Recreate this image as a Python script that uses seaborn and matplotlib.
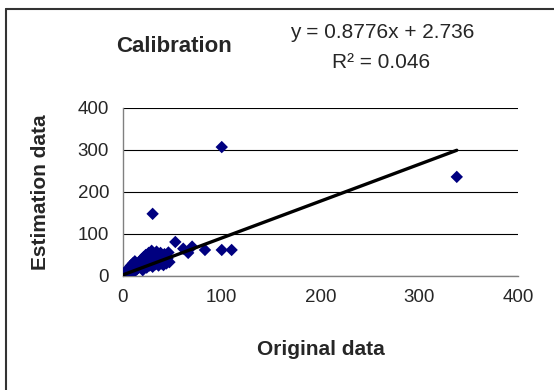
import numpy as np
import matplotlib
matplotlib.use("Agg")
import matplotlib.pyplot as plt
import seaborn as sns
from matplotlib.lines import Line2D

# original vs estimated values
original = [0, 1, 2, 1, 3, 4, 5, 3, 6, 7, 8, 9, 10, 11, 12, 13, 14, 15, 16, 17,
            18, 19, 20, 21, 22, 23, 24, 25, 26, 27, 28, 29, 30, 31, 32, 33, 34,
            35, 36, 37, 38, 39, 40, 41, 42, 43, 44, 45, 46, 47, 8, 10, 12, 2, 4,
            30, 53, 61, 66, 70, 83, 100, 110, 100, 338]
estimated = [0, 1, 3, 5, 2, 6, 4, 8, 9, 5, 10, 14, 8, 18, 12, 22, 16, 28, 20, 35,
             24, 40, 14, 45, 30, 50, 20, 38, 55, 25, 44, 60, 22, 35, 50, 28, 58,
             40, 25, 48, 55, 30, 45, 26, 52, 35, 30, 42, 56, 33, 25, 30, 35, 10, 12,
             148, 81, 65, 55, 70, 62, 62, 62, 307, 236]

slope = 0.8776
intercept = 2.736
eq_text = "y = 0.8776x + 2.736"
r2_text = "R² = 0.046"

sns.set_style("white")
plt.rcParams['font.family'] = ['Liberation Sans', 'DejaVu Sans']

fig = plt.figure(figsize=(5.54, 3.9), dpi=100)
ax = fig.add_axes([123/554, 1 - 276/390, (518 - 123)/554, (276 - 108)/390])

sns.scatterplot(x=original, y=estimated, marker='D', color='#000080',
                s=40, edgecolor='none', ax=ax, zorder=3)

# linear trendline over the data range
xs = np.array([min(original), max(original)])
ax.plot(xs, slope * xs + intercept, color='black', lw=2.4, zorder=4)

ax.set_xlim(0, 400)
ax.set_ylim(0, 400)
ax.set_xticks([0, 100, 200, 300, 400])
ax.set_yticks([0, 100, 200, 300, 400])
ax.yaxis.grid(True, color='black', lw=0.8)
ax.set_axisbelow(True)
for s in ['top', 'right']:
    ax.spines[s].set_visible(False)
for s in ['left', 'bottom']:
    ax.spines[s].set_color('#808080')
    ax.spines[s].set_linewidth(1)
ax.tick_params(axis='both', direction='out', length=4, color='#808080',
               labelsize=13.5)
ax.tick_params(axis='x', pad=5)
ax.tick_params(axis='y', pad=6)

ax.set_xlabel('Original data', fontsize=15, fontweight='bold', labelpad=25)
ax.set_ylabel('Estimation data', fontsize=15, fontweight='bold', labelpad=20)

fig.text(174/554, 1 - 47/390, 'Calibration', fontsize=16, fontweight='bold',
         ha='center', va='center')
fig.text(382/554, 1 - 33/390, eq_text, fontsize=15, ha='center', va='center')
fig.text(381/554, 1 - 62/390, r2_text, fontsize=15, ha='center', va='center')

# chart border (only left and top edges visible)
fig.add_artist(Line2D([5.5/554, 5.5/554], [0, 1 - 8.5/390], color='#333333', lw=1.5))
fig.add_artist(Line2D([5.5/554, 1], [1 - 8.5/390, 1 - 8.5/390], color='#333333', lw=1.5))

fig.savefig('out.png', dpi=100)
